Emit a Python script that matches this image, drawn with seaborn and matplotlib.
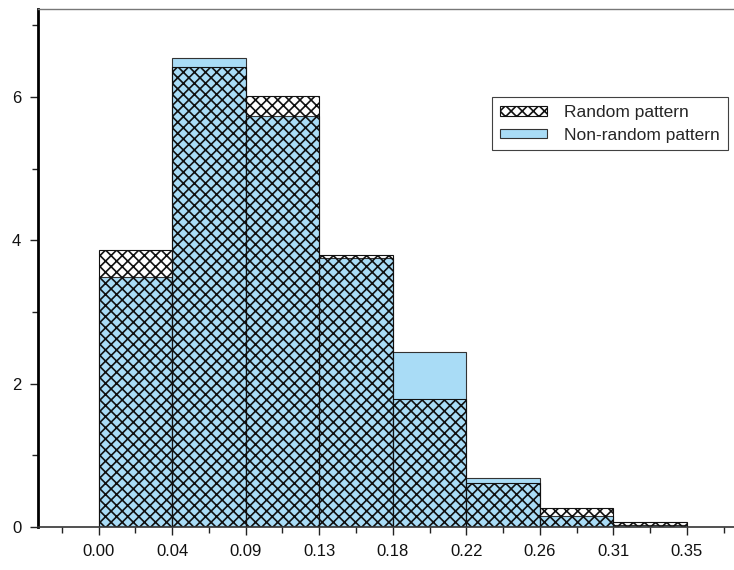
import numpy as np
import matplotlib
matplotlib.use("Agg")
import matplotlib.pyplot as plt
import seaborn as sns
from matplotlib.patches import Patch

# bin edges (8 equal bins from 0 to ~0.353)
edges = [0.0, 0.0441, 0.0882, 0.1323, 0.1764, 0.2205, 0.2646, 0.3087, 0.3528]
edge_labels = ["0.00", "0.04", "0.09", "0.13", "0.18", "0.22", "0.26", "0.31", "0.35"]

# density heights
random_density = [3.86, 6.42, 6.01, 3.80, 1.78, 0.61, 0.26, 0.066]
nonrandom_density = [3.49, 6.55, 5.73, 3.76, 2.44, 0.69, 0.15, 0.03]

centers = [(a + b) / 2 for a, b in zip(edges[:-1], edges[1:])]

sns.set_style("ticks")
plt.rcParams["font.family"] = ["Liberation Sans", "DejaVu Sans"]
plt.rcParams["hatch.linewidth"] = 1.2

blue = "#a9dcf6"
hatch = "xxx"

fig = plt.figure(figsize=(7.34, 5.70), dpi=100)
ax = fig.add_axes([38 / 734, 43 / 570, 1 - 38 / 734, (527 - 9) / 570])

sns.histplot(x=centers, weights=nonrandom_density, bins=edges, stat="count",
             color=blue, alpha=1, edgecolor="#333333", linewidth=0.8, ax=ax)
sns.histplot(x=centers, weights=random_density, bins=edges, stat="count",
             edgecolor="#111111", linewidth=0.8, ax=ax)

# random-pattern bars: transparent with cross hatch
for p in ax.patches[len(edges) - 1:]:
    p.set_facecolor("none")
    p.set_hatch(hatch)
    p.set_edgecolor("#111111")

ax.set_xlim(-0.0363, 0.381)
ax.set_ylim(0, 7.23)
ax.set_xticks(edges)
ax.set_xticklabels(edge_labels)
minor_x = [edges[0] - 0.02205] + centers + [edges[-1] + 0.02205]
ax.set_xticks(minor_x, minor=True)
ax.set_yticks([0, 2, 4, 6])
ax.set_yticks([1, 3, 5, 7], minor=True)
ax.set_xlabel("")
ax.set_ylabel("")
ax.tick_params(axis="both", which="major", length=6, width=1, color="#222222",
               labelsize=12, labelcolor="#111111")
ax.tick_params(axis="both", which="minor", length=4, width=1, color="#222222")
ax.tick_params(axis="x", pad=6)
ax.tick_params(axis="y", pad=6)

ax.spines["left"].set_linewidth(2)
ax.spines["left"].set_color("#000000")
ax.spines["bottom"].set_linewidth(1.2)
ax.spines["bottom"].set_color("#333333")
ax.spines["top"].set_linewidth(1)
ax.spines["top"].set_color("#777777")
ax.spines["right"].set_visible(False)

handles = [
    Patch(facecolor="white", edgecolor="#111111", hatch=hatch, linewidth=0.8, label="Random pattern"),
    Patch(facecolor=blue, edgecolor="#333333", linewidth=0.8, label="Non-random pattern"),
]
leg = ax.legend(handles=handles, loc="upper left",
                bbox_to_anchor=((492 - 38) / (734 - 38), 1 - (97 - 9) / 518),
                frameon=True, fancybox=False, fontsize=12.5,
                handlelength=2.7, handleheight=0.5, borderpad=0.45, labelspacing=0.45,
                handletextpad=1.0, borderaxespad=0)
leg.get_frame().set_edgecolor("#111111")
leg.get_frame().set_linewidth(0.8)

fig.savefig("out.png", dpi=100)
